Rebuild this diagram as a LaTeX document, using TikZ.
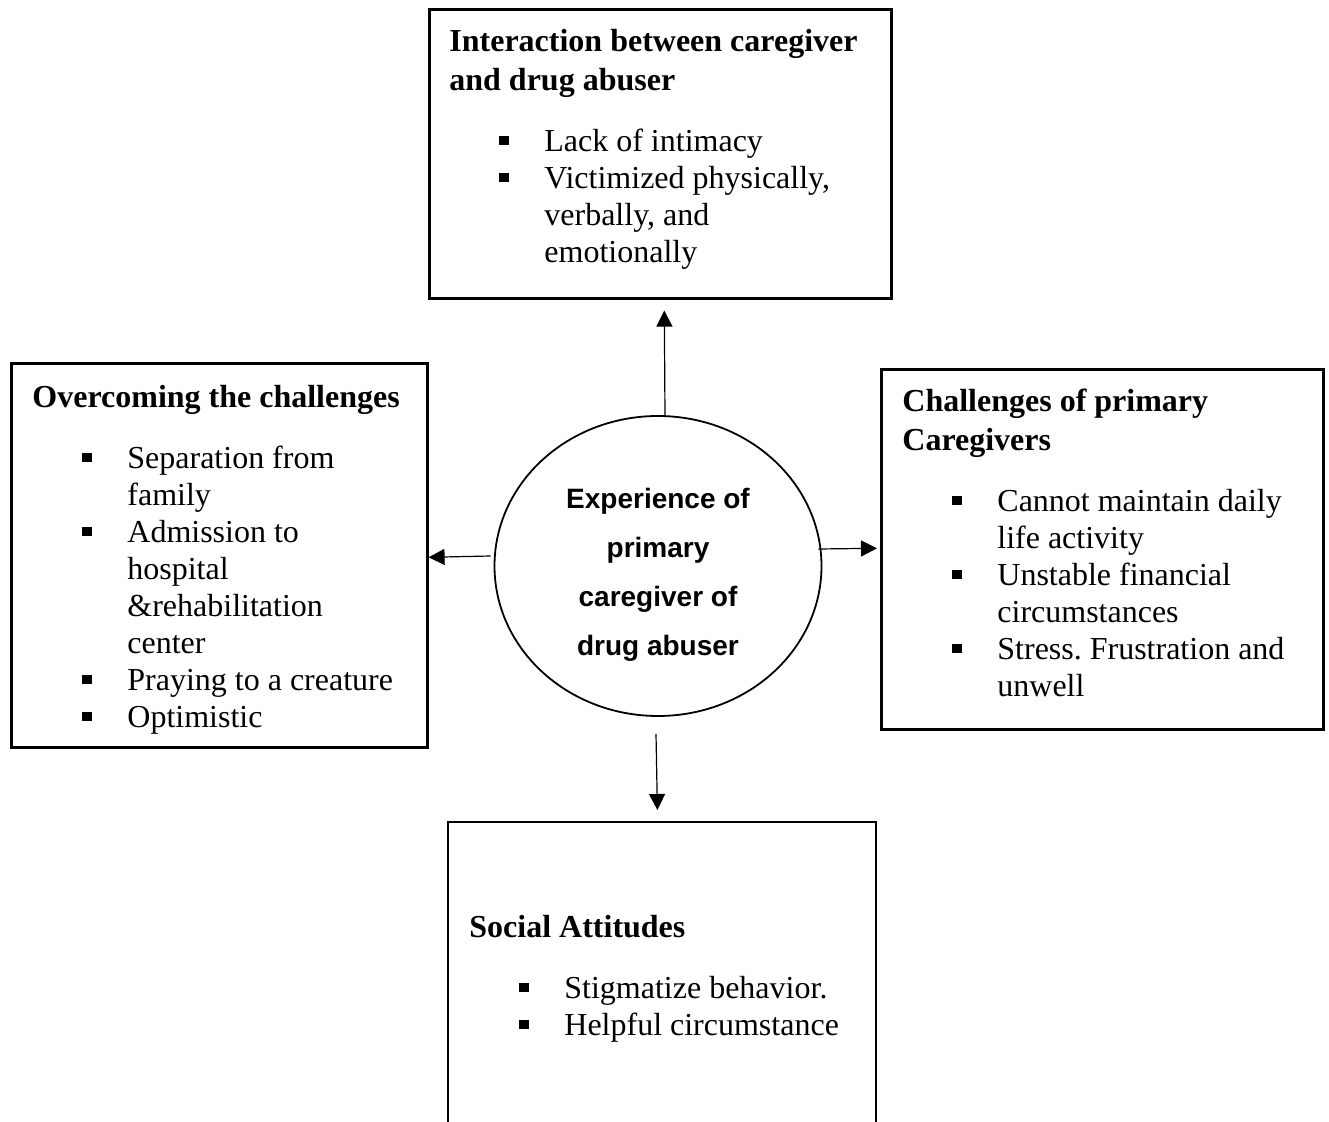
\documentclass[tikz,border=0pt]{standalone}
\usepackage{fontspec}
\setmainfont{Liberation Serif}
\newfontfamily\arialbold{Liberation Sans}
\usetikzlibrary{shapes.geometric,arrows.meta,positioning,calc}
\frenchspacing

\newcommand{\bul}{\makebox[47.5pt][l]{\hspace*{25pt}\raisebox{3.3pt}{\rule{4.8pt}{4.5pt}}}}
\newcommand{\ind}{\hspace*{47.5pt}}

\tikzset{
  box/.style={draw, line width=1.3pt, inner sep=0pt, anchor=north west},
  boxtext/.style={inner sep=0pt, font=\fontsize{16}{18.5}\selectfont},
  link/.style={-{Triangle[length=8pt,width=8pt]}, line width=0.6pt}
}

\begin{document}
\begin{tikzpicture}[x=0.5pt,y=-0.5pt]
    \useasboundingbox (0,0) rectangle (1329,1122);

    % centre
    \node[ellipse, draw, line width=0.9pt, minimum width=163.5pt, minimum height=150pt, inner sep=0pt] (hub) at (658,566) {};
    \node[align=center, inner sep=0pt, font=\fontsize{14}{24.5}\arialbold\bfseries] (hubtxt) at ($(hub.center)+(0,9)$)
          {Experience of\\primary\\caregiver of\\drug abuser};

    % boxes
    \node[box, minimum width=231pt, minimum height=144.5pt] (inter) at (428,8) {};
    \node[box, minimum width=208pt, minimum height=192pt] (cope) at (10,362) {};
    \node[box, minimum width=221pt, minimum height=180pt] (strain) at (880,368) {};
    \node[inner sep=0pt, anchor=north west, minimum width=213.5pt, minimum height=150pt] (social) at (448,822) {};
    \draw[line width=1.3pt] (social.south west) -- (social.north west) -- (social.north east) -- (social.south east);

    \node[boxtext, below right=8.5pt and 10.5pt of inter.north west] (intertxt) {\begin{tabular}{@{}l@{}}
      \textbf{Interaction between caregiver}\\[1pt]
      \textbf{and drug abuser}\\[12pt]
      \bul Lack of intimacy\\
      \bul Victimized physically,\\
      \ind verbally, and\\
      \ind emotionally
    \end{tabular}};

    \node[boxtext, below right=9.5pt and 11pt of cope.north west] (copetxt) {\begin{tabular}{@{}l@{}}
      \textbf{Overcoming the challenges}\\[12pt]
      \bul Separation from\\
      \ind family\\
      \bul Admission to\\
      \ind hospital\\
      \ind \&rehabilitation\\
      \ind center\\
      \bul Praying to a creature\\
      \bul Optimistic
    \end{tabular}};

    \node[boxtext, below right=8.5pt and 11pt of strain.north west] (straintxt) {\begin{tabular}{@{}l@{}}
      \textbf{Challenges of primary}\\[1pt]
      \textbf{Caregivers}\\[12pt]
      \bul Cannot maintain daily\\
      \ind life activity\\
      \bul Unstable financial\\
      \ind circumstances\\
      \bul Stress. Frustration and\\
      \ind unwell
    \end{tabular}};

    \node[boxtext, below right=44.5pt and 10.5pt of social.north west] (socialtxt) {\begin{tabular}{@{}l@{}}
      \textbf{Social Attitudes}\\[12pt]
      \bul Stigmatize behavior.\\
      \bul Helpful circumstance
    \end{tabular}};

    % arrows
    \draw[link] ($(hub.north)+(7,0)$) -- ($(inter.south)+(4,11)$);
    \draw[link] ($(hub.west)+(-3,-10)$) -- ($(cope.east)+(0,2)$);
    \draw[link] ($(hub.east)+(-4,-17)$) -- ($(strain.west)+(-3,-1)$);
    \draw[link] ($(hub.south)+(-2,17)$) -- ($(social.north)+(-4.5,-12)$);
\end{tikzpicture}
\end{document}
